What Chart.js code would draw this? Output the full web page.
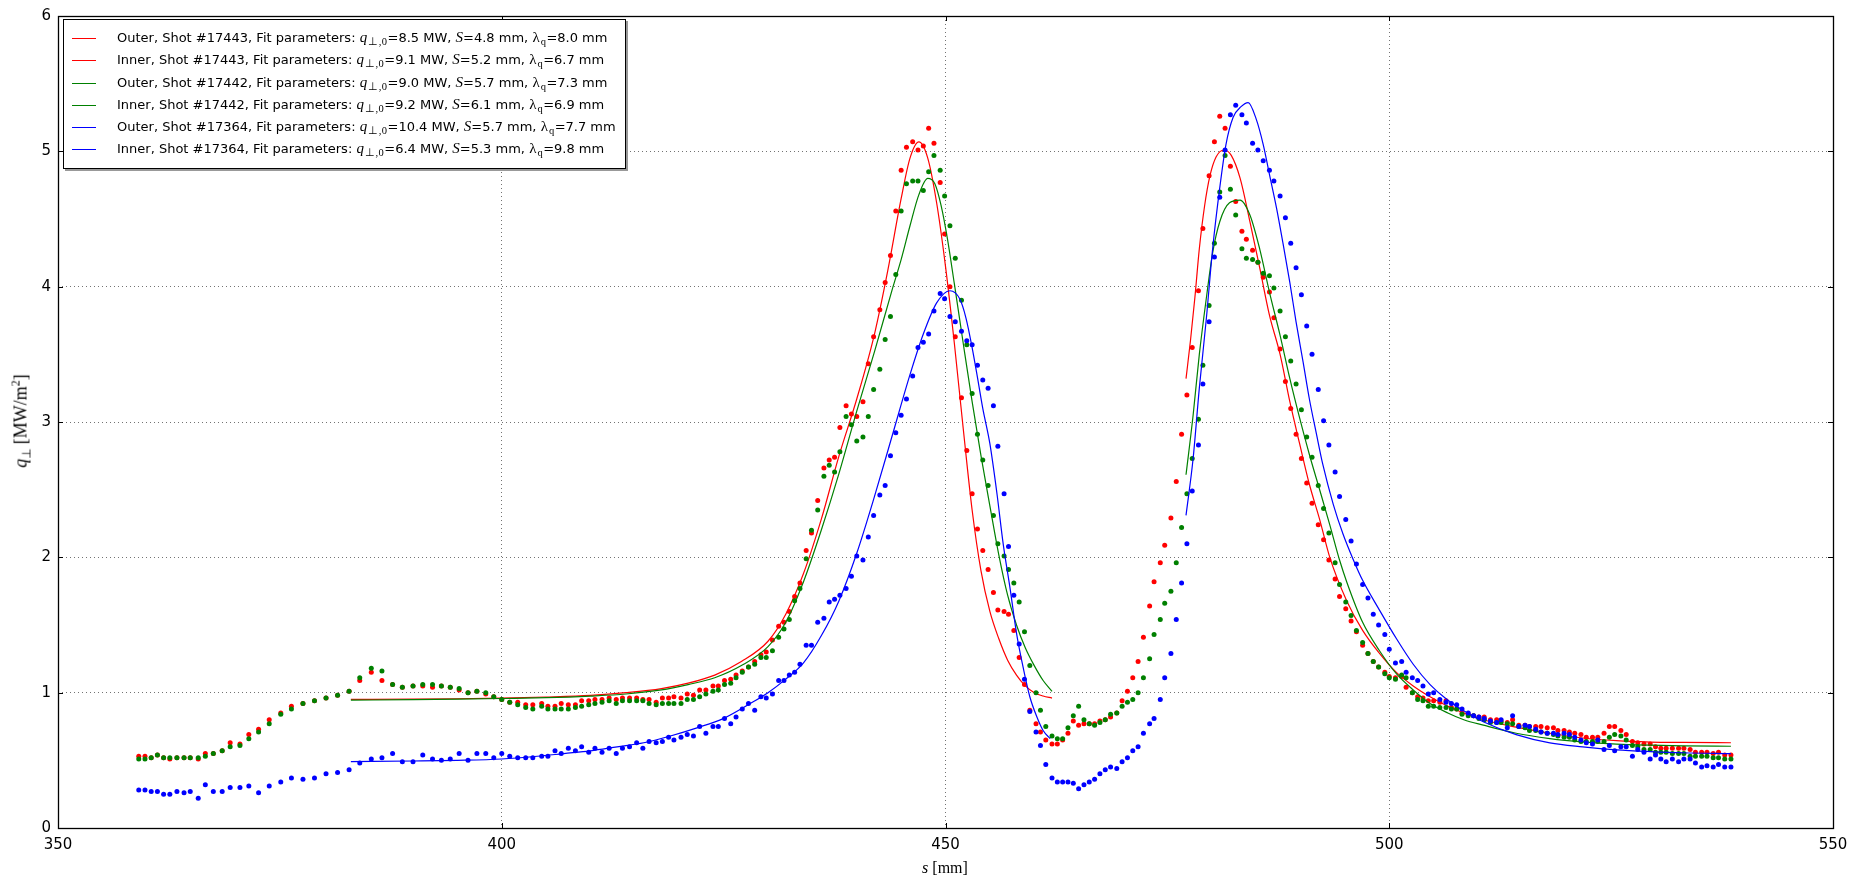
<!DOCTYPE html>
<html>
<head>
<meta charset="utf-8">
<title>Heat flux profiles</title>
<script src="https://cdn.jsdelivr.net/npm/chart.js@4.4.1/dist/chart.umd.min.js"></script>
<style>
    html, body { margin: 0; padding: 0; background: #fff; }
    #chart-div { position: relative; width: 1858px; height: 881px; }
    #legend-div {
        position: absolute; left: 63px; top: 19px; width: 561px;
        padding: 6px 0 8px 0; border: 1px solid #000; background: #fff;
        box-shadow: 2px 2px 0 #999;
        font-family: "DejaVu Sans", sans-serif; font-size: 13px; color: #000;
    }
    .legend-row { height: 22.3px; line-height: 22.3px; white-space: nowrap; }
    .legend-line { display: inline-block; width: 24px; height: 0; border-top: 1.5px solid; vertical-align: middle; margin: 0 21px 0 8px; }
    .m { font-family: "Liberation Serif", serif; font-size: 15px; }
    .m sub { font-size: 10.5px; vertical-align: -3px; line-height: 0; margin-left: 1px; letter-spacing: 0.5px; }
    #y-title sub { font-size: 12px; vertical-align: -4px; line-height: 0; }
    #y-title sup { font-size: 12px; vertical-align: 7px; line-height: 0; }
    #x-title, #y-title { position: absolute; font-family: "Liberation Serif", serif; white-space: nowrap; color: #000; }
    #x-title { font-size: 16px; left: 945px; top: 868px; transform: translate(-50%, -50%); }
    #y-title { font-size: 18px; left: 21px; top: 421px; transform: translate(-50%, -50%) rotate(-90deg); }
</style>
</head>
<body>
<div id="chart-div">
    <canvas id="chart" width="1858" height="881"></canvas>
    <div id="legend-div"></div>
    <div id="x-title"><i>s</i> [mm]</div>
    <div id="y-title"><i>q</i><sub>⊥</sub> [MW/m<sup>2</sup>]</div>
</div>
<script>
// 측정 위치 s [mm] (세 샷 공통)
const sPos = [
    359.1, 359.8, 360.5, 361.2, 361.9, 362.6, 363.4, 364.2, 364.9, 365.8,
    366.6, 367.5, 368.5, 369.4, 370.5, 371.5, 372.6, 373.8, 375.1, 376.3,
    377.6, 378.9, 380.2, 381.5, 382.8, 384.0, 385.3, 386.5, 387.7, 388.8,
    390.0, 391.1, 392.2, 393.2, 394.2, 395.2, 396.2, 397.2, 398.2, 399.1,
    400.0, 400.9, 401.8, 402.7, 403.5, 404.5, 405.2, 406.0, 406.7, 407.5,
    408.3, 409.0, 409.8, 410.5, 411.3, 412.1, 412.9, 413.6, 414.4, 415.2,
    415.9, 416.6, 417.4, 418.1, 418.8, 419.4, 420.2, 420.9, 421.6, 422.3,
    423.0, 423.8, 424.4, 425.1, 425.8, 426.4, 427.1, 427.8, 428.5, 429.2,
    429.8, 430.5, 431.2, 431.8, 432.4, 433.0, 433.6, 434.3, 434.9, 435.6,
    436.3, 436.9, 437.5, 438.1, 438.8, 439.4, 440.0, 440.7, 441.3, 441.9,
    442.6, 443.2, 443.8, 444.4, 445.0, 445.6, 446.3, 446.9, 447.5, 448.1,
    448.7, 449.4, 449.9, 450.5, 451.1, 451.8, 452.4, 453.0, 453.6, 454.2,
    454.8, 455.4, 455.9, 456.6, 457.1, 457.7, 458.3, 458.9, 459.5, 460.2,
    460.7, 461.3, 462.0, 462.6, 463.2, 463.8, 464.4, 465.0, 465.6, 466.2,
    466.8, 467.4, 468.0, 468.6, 469.3, 469.9, 470.5, 471.1, 471.7, 472.3,
    473.0, 473.5, 474.2, 474.7, 475.4, 476.0, 476.6, 477.2, 477.8, 478.5,
    479.0, 479.7, 480.3, 480.9, 481.5, 482.1, 482.7, 483.4, 483.9, 484.6,
    485.2, 485.8, 486.5, 487.0, 487.7, 488.3, 488.9, 489.5, 490.1, 490.7,
    491.3, 492.0, 492.6, 493.2, 493.9, 494.4, 495.1, 495.7, 496.3, 497.0,
    497.6, 498.2, 498.8, 499.5, 500.0, 500.7, 501.4, 501.9, 502.6, 503.2,
    503.8, 504.4, 505.0, 505.7, 506.4, 507.0, 507.6, 508.2, 508.9, 509.5,
    510.1, 510.7, 511.4, 512.1, 512.6, 513.3, 513.9, 514.6, 515.3, 515.8,
    516.5, 517.1, 517.8, 518.5, 519.0, 519.7, 520.3, 520.9, 521.6, 522.2,
    522.9, 523.5, 524.2, 524.8, 525.4, 526.1, 526.7, 527.4, 528.0, 528.7,
    529.4, 530.0, 530.6, 531.2, 531.9, 532.6, 533.2, 533.9, 534.5, 535.2,
    535.8, 536.5, 537.1, 537.8, 538.5
]

// 측정값 q [MW/m^2]
const shot17443 = [
    0.53, 0.53, 0.52, 0.54, 0.52, 0.51, 0.52, 0.52, 0.52, 0.51,
    0.55, 0.55, 0.57, 0.63, 0.62, 0.69, 0.73, 0.80, 0.85, 0.90,
    0.92, 0.94, 0.96, 0.98, 1.01, 1.09, 1.15, 1.09, 1.06, 1.04,
    1.05, 1.05, 1.04, 1.05, 1.04, 1.02, 1.00, 1.01, 0.99, 0.97,
    0.95, 0.93, 0.93, 0.91, 0.91, 0.92, 0.90, 0.90, 0.92, 0.91,
    0.91, 0.94, 0.94, 0.95, 0.95, 0.96, 0.95, 0.96, 0.96, 0.96,
    0.95, 0.95, 0.93, 0.96, 0.96, 0.97, 0.96, 0.99, 0.98, 1.02,
    1.02, 1.05, 1.05, 1.09, 1.10, 1.13, 1.16, 1.19, 1.23, 1.28,
    1.30, 1.39, 1.49, 1.52, 1.60, 1.71, 1.81, 2.05, 2.18, 2.42,
    2.66, 2.72, 2.74, 2.96, 3.12, 3.06, 3.04, 3.15, 3.43, 3.63,
    3.83, 4.03, 4.23, 4.56, 4.86, 5.03, 5.07, 5.01, 5.04, 5.17,
    5.06, 4.77, 4.39, 4.00, 3.63, 3.18, 2.79, 2.47, 2.21, 2.05,
    1.91, 1.74, 1.61, 1.60, 1.58, 1.46, 1.26, 1.06, 0.87, 0.77,
    0.71, 0.65, 0.62, 0.62, 0.65, 0.70, 0.79, 0.76, 0.77, 0.77,
    0.77, 0.79, 0.80, 0.82, 0.85, 0.94, 1.01, 1.11, 1.23, 1.41,
    1.64, 1.82, 1.96, 2.09, 2.29, 2.56, 2.91, 3.20, 3.55, 3.97,
    4.43, 4.82, 5.07, 5.26, 5.17, 4.89, 4.63, 4.41, 4.35, 4.27,
    4.18, 4.07, 3.96, 3.77, 3.54, 3.30, 3.10, 2.91, 2.73, 2.55,
    2.40, 2.24, 2.13, 1.98, 1.84, 1.71, 1.62, 1.53, 1.45, 1.35,
    1.29, 1.23, 1.19, 1.15, 1.12, 1.11, 1.12, 1.04, 1.00, 0.97,
    0.96, 0.94, 0.94, 0.93, 0.94, 0.89, 0.88, 0.85, 0.84, 0.83,
    0.82, 0.82, 0.80, 0.80, 0.79, 0.78, 0.80, 0.76, 0.76, 0.75,
    0.75, 0.75, 0.74, 0.74, 0.72, 0.72, 0.71, 0.70, 0.69, 0.67,
    0.67, 0.67, 0.70, 0.75, 0.75, 0.72, 0.69, 0.64, 0.63, 0.62,
    0.62, 0.60, 0.59, 0.59, 0.59, 0.59, 0.59, 0.58, 0.56, 0.56,
    0.56, 0.55, 0.56, 0.54, 0.54
]
const shot17442 = [
    0.51, 0.51, 0.52, 0.54, 0.52, 0.52, 0.52, 0.52, 0.52, 0.52,
    0.53, 0.55, 0.57, 0.60, 0.61, 0.66, 0.71, 0.77, 0.84, 0.88,
    0.92, 0.94, 0.96, 0.98, 1.01, 1.11, 1.18, 1.16, 1.06, 1.04,
    1.05, 1.06, 1.06, 1.05, 1.04, 1.03, 1.00, 1.01, 1.00, 0.97,
    0.95, 0.93, 0.91, 0.89, 0.88, 0.90, 0.88, 0.88, 0.88, 0.88,
    0.89, 0.90, 0.91, 0.92, 0.93, 0.94, 0.92, 0.94, 0.94, 0.94,
    0.94, 0.92, 0.91, 0.92, 0.92, 0.92, 0.92, 0.95, 0.95, 0.97,
    0.99, 1.01, 1.02, 1.06, 1.07, 1.11, 1.15, 1.19, 1.21, 1.26,
    1.26, 1.31, 1.41, 1.47, 1.54, 1.68, 1.77, 1.99, 2.20, 2.35,
    2.60, 2.68, 2.63, 2.78, 3.04, 2.98, 2.86, 2.89, 3.04, 3.24,
    3.39, 3.61, 3.78, 4.09, 4.56, 4.76, 4.78, 4.78, 4.71, 4.85,
    4.97, 4.86, 4.67, 4.45, 4.21, 3.90, 3.57, 3.21, 2.91, 2.72,
    2.53, 2.31, 2.10, 2.01, 1.91, 1.81, 1.67, 1.45, 1.20, 1.00,
    0.87, 0.75, 0.68, 0.66, 0.66, 0.74, 0.83, 0.90, 0.80, 0.77,
    0.76, 0.78, 0.80, 0.84, 0.85, 0.90, 0.93, 0.95, 1.00, 1.11,
    1.25, 1.43, 1.54, 1.66, 1.75, 1.96, 2.22, 2.47, 2.73, 3.02,
    3.42, 3.86, 4.32, 4.70, 4.97, 4.72, 4.53, 4.28, 4.21, 4.20,
    4.18, 4.10, 4.08, 3.99, 3.82, 3.63, 3.45, 3.28, 3.09, 2.89,
    2.74, 2.53, 2.36, 2.18, 1.96, 1.80, 1.67, 1.57, 1.46, 1.37,
    1.29, 1.23, 1.19, 1.14, 1.11, 1.10, 1.13, 1.11, 1.00, 0.95,
    0.94, 0.90, 0.90, 0.89, 0.89, 0.88, 0.88, 0.84, 0.83, 0.83,
    0.81, 0.80, 0.78, 0.78, 0.78, 0.77, 0.77, 0.75, 0.74, 0.72,
    0.72, 0.71, 0.70, 0.69, 0.68, 0.67, 0.67, 0.65, 0.64, 0.64,
    0.64, 0.64, 0.64, 0.67, 0.69, 0.68, 0.65, 0.61, 0.60, 0.58,
    0.58, 0.56, 0.56, 0.56, 0.55, 0.55, 0.55, 0.53, 0.53, 0.53,
    0.53, 0.52, 0.52, 0.51, 0.51
]
const shot17364 = [
    0.28, 0.28, 0.27, 0.27, 0.25, 0.25, 0.27, 0.26, 0.27, 0.22,
    0.32, 0.27, 0.27, 0.30, 0.30, 0.31, 0.26, 0.31, 0.34, 0.37,
    0.36, 0.37, 0.40, 0.41, 0.43, 0.48, 0.51, 0.52, 0.55, 0.49,
    0.49, 0.54, 0.51, 0.50, 0.51, 0.55, 0.50, 0.55, 0.55, 0.52,
    0.55, 0.53, 0.52, 0.52, 0.52, 0.53, 0.53, 0.57, 0.55, 0.59,
    0.57, 0.60, 0.56, 0.59, 0.56, 0.59, 0.55, 0.59, 0.60, 0.63,
    0.59, 0.64, 0.63, 0.64, 0.67, 0.65, 0.67, 0.69, 0.68, 0.75,
    0.70, 0.75, 0.75, 0.81, 0.77, 0.82, 0.88, 0.92, 0.87, 0.97,
    0.96, 0.99, 1.09, 1.09, 1.13, 1.15, 1.21, 1.35, 1.35, 1.52,
    1.55, 1.67, 1.69, 1.72, 1.77, 1.86, 2.01, 1.98, 2.15, 2.31,
    2.46, 2.53, 2.75, 2.92, 3.05, 3.17, 3.34, 3.55, 3.59, 3.65,
    3.82, 3.95, 3.91, 3.78, 3.74, 3.67, 3.60, 3.57, 3.42, 3.31,
    3.25, 3.12, 2.82, 2.47, 2.08, 1.72, 1.36, 1.10, 0.86, 0.71,
    0.61, 0.47, 0.37, 0.34, 0.34, 0.34, 0.33, 0.29, 0.32, 0.34,
    0.36, 0.40, 0.43, 0.45, 0.44, 0.49, 0.52, 0.57, 0.60, 0.70,
    0.77, 0.81, 0.95, 1.11, 1.29, 1.54, 1.81, 2.10, 2.49, 2.83,
    3.28, 3.74, 4.22, 4.66, 5.01, 5.27, 5.34, 5.27, 5.21, 5.06,
    5.01, 4.93, 4.86, 4.78, 4.67, 4.51, 4.32, 4.14, 3.94, 3.71,
    3.50, 3.24, 3.01, 2.83, 2.63, 2.45, 2.28, 2.12, 1.95, 1.80,
    1.70, 1.58, 1.50, 1.43, 1.32, 1.22, 1.23, 1.15, 1.11, 1.09,
    1.05, 0.99, 1.00, 0.95, 0.93, 0.92, 0.91, 0.88, 0.85, 0.83,
    0.82, 0.81, 0.79, 0.78, 0.80, 0.74, 0.83, 0.75, 0.76, 0.75,
    0.73, 0.71, 0.70, 0.70, 0.69, 0.70, 0.69, 0.67, 0.65, 0.63,
    0.62, 0.65, 0.58, 0.61, 0.57, 0.60, 0.60, 0.53, 0.58, 0.56,
    0.51, 0.54, 0.51, 0.49, 0.51, 0.49, 0.51, 0.51, 0.48, 0.45,
    0.46, 0.45, 0.47, 0.45, 0.45
]

// 피팅 곡선
const outer17443S = [477.1, 477.6, 478.1, 478.6, 479.2, 479.8, 480.5, 481.4, 482.2, 483.2, 484.3, 485.4, 486.5, 487.7, 488.8, 489.9, 491.0, 492.2, 493.3, 495.2, 497.0, 498.9, 500.8, 502.7, 504.6, 506.6, 508.4, 510.6, 514.3, 518.1, 521.8, 525.6, 529.4, 533.1, 538.5]
const outer17443Q = [3.32, 3.60, 3.92, 4.28, 4.60, 4.82, 4.96, 5.01, 4.97, 4.80, 4.48, 4.14, 3.79, 3.50, 3.15, 2.84, 2.54, 2.27, 2.00, 1.68, 1.46, 1.29, 1.15, 1.05, 0.97, 0.90, 0.85, 0.80, 0.745, 0.70, 0.665, 0.645, 0.635, 0.632, 0.63]
const inner17443S = [383, 390, 395, 400, 405, 410, 414, 418, 421, 424, 427, 430, 432, 434, 436, 438, 440, 442, 443.5, 445, 446, 447, 448, 449, 450, 451, 452, 453, 454, 455, 456, 457, 458, 459, 460, 461, 462]
const inner17443Q = [0.95, 0.952, 0.955, 0.96, 0.968, 0.98, 1.0, 1.03, 1.07, 1.13, 1.23, 1.38, 1.58, 1.88, 2.28, 2.75, 3.17, 3.65, 4.12, 4.65, 4.95, 5.07, 4.95, 4.62, 4.15, 3.58, 2.95, 2.35, 1.9, 1.6, 1.4, 1.24, 1.13, 1.05, 1.0, 0.975, 0.96]
const outer17442S = [477.1, 477.9, 478.6, 479.4, 480.1, 480.9, 482.0, 483.2, 484.3, 485.4, 486.5, 487.7, 488.8, 489.9, 491.0, 492.2, 493.3, 494.4, 495.2, 497.0, 498.9, 500.8, 502.7, 504.6, 506.6, 508.4, 510.6, 514.3, 518.1, 521.8, 525.6, 529.4, 533.1, 538.5]
const outer17442Q = [2.61, 3.05, 3.50, 3.92, 4.25, 4.48, 4.62, 4.64, 4.53, 4.28, 3.96, 3.64, 3.32, 3.03, 2.76, 2.49, 2.24, 1.98, 1.82, 1.52, 1.31, 1.14, 1.02, 0.92, 0.85, 0.80, 0.76, 0.70, 0.661, 0.636, 0.62, 0.612, 0.607, 0.604]
const inner17442S = [383, 390, 395, 400, 405, 410, 414, 418, 421, 424, 427, 430, 432, 434, 436, 438, 440, 442, 444, 445, 446, 447, 448, 448.8, 449.5, 450.2, 451, 452, 453, 454, 455, 456, 457, 458, 459, 460, 461, 462]
const inner17442Q = [0.945, 0.948, 0.952, 0.957, 0.963, 0.975, 0.99, 1.02, 1.06, 1.11, 1.2, 1.34, 1.52, 1.82, 2.2, 2.62, 3.08, 3.52, 3.98, 4.2, 4.45, 4.68, 4.8, 4.76, 4.6, 4.36, 4.02, 3.58, 3.15, 2.75, 2.38, 2.02, 1.72, 1.5, 1.33, 1.2, 1.09, 1.01]
const outer17364S = [477.1, 477.9, 478.6, 479.4, 480.1, 480.9, 481.6, 482.4, 483.3, 484.1, 485.0, 485.8, 486.5, 487.3, 488.0, 488.8, 489.5, 490.3, 491.0, 491.8, 492.5, 493.7, 494.8, 495.9, 497.0, 498.9, 500.8, 502.7, 504.6, 506.4, 508.3, 510.6, 514.3, 518.1, 521.8, 525.6, 529.4, 533.1, 538.5]
const outer17364Q = [2.31, 2.73, 3.25, 3.77, 4.28, 4.73, 5.05, 5.25, 5.33, 5.36, 5.24, 5.05, 4.83, 4.58, 4.33, 4.03, 3.74, 3.44, 3.17, 2.91, 2.69, 2.39, 2.17, 1.99, 1.83, 1.61, 1.40, 1.21, 1.06, 0.955, 0.87, 0.785, 0.69, 0.629, 0.60, 0.578, 0.565, 0.556, 0.55]
const inner17364S = [383, 390, 395, 400, 404, 407, 410, 413, 416, 419, 422, 425, 428, 430, 432, 434, 436, 438, 440, 442, 444, 446, 447.5, 449, 450.5, 451.6, 452.3, 453, 453.6, 454.2, 455, 455.8, 456.5, 457.3, 458, 458.8, 459.5, 460.3, 461, 461.8]
const inner17364Q = [0.49, 0.495, 0.5, 0.51, 0.53, 0.55, 0.57, 0.6, 0.63, 0.68, 0.74, 0.81, 0.92, 1.0, 1.1, 1.22, 1.42, 1.68, 2.03, 2.45, 2.9, 3.35, 3.65, 3.88, 3.97, 3.91, 3.77, 3.55, 3.33, 3.1, 2.84, 2.47, 2.1, 1.76, 1.44, 1.17, 0.97, 0.82, 0.72, 0.66]

// 범례용 피팅 파라미터
const fitSide = ['Outer', 'Inner', 'Outer', 'Inner', 'Outer', 'Inner']
const fitShot = ['17443', '17443', '17442', '17442', '17364', '17364']
const fitQ0 = [8.5, 9.1, 9.0, 9.2, 10.4, 6.4]
const fitWidthS = [4.8, 5.2, 5.7, 6.1, 5.7, 5.3]
const fitLambda = [8.0, 6.7, 7.3, 6.9, 7.7, 9.8]

const colorRed = '#ff0000'
const colorGreen = '#008000'
const colorBlue = '#0000ff'

window.onload = function () {
    drawChart()
    drawLegend()
}

function toPoints(xs, ys) {
    const pts = []
    for (let i = 0; i < xs.length; i++) {
        pts.push({x: xs[i], y: ys[i]})
    }
    return pts
}

function pointSet(values, color, order) {
    return {
        data: toPoints(sPos, values),
        showLine: false,
        pointRadius: 2.5,
        pointHoverRadius: 2.5,
        pointBorderWidth: 0,
        pointBackgroundColor: color,
        borderColor: color,
        order: order
    }
}

function fitSet(xs, ys, color, order) {
    return {
        data: toPoints(xs, ys),
        showLine: true,
        pointRadius: 0,
        pointHoverRadius: 0,
        borderColor: color,
        backgroundColor: color,
        borderWidth: 1.2,
        cubicInterpolationMode: 'monotone',
        fill: false,
        order: order
    }
}

// 축 테두리 + 안쪽 눈금
const framePlugin = {
    id: 'frame',
    afterDraw: function (chart) {
        const ctx = chart.ctx
        const a = chart.chartArea
        const xs = chart.scales.x
        const ys = chart.scales.y
        ctx.save()
        ctx.strokeStyle = '#000'
        ctx.lineWidth = 1
        ctx.beginPath()
        xs.ticks.forEach(function (t) {
            const px = Math.round(xs.getPixelForValue(t.value)) + 0.5
            ctx.moveTo(px, a.bottom); ctx.lineTo(px, a.bottom - 5)
            ctx.moveTo(px, a.top); ctx.lineTo(px, a.top + 5)
        })
        ys.ticks.forEach(function (t) {
            const py = Math.round(ys.getPixelForValue(t.value)) + 0.5
            ctx.moveTo(a.left, py); ctx.lineTo(a.left + 5, py)
            ctx.moveTo(a.right, py); ctx.lineTo(a.right - 5, py)
        })
        ctx.stroke()
        ctx.lineWidth = 1.3
        ctx.strokeRect(Math.round(a.left) + 0.5, Math.round(a.top) + 0.5, Math.round(a.right - a.left), Math.round(a.bottom - a.top))
        ctx.restore()
    }
}

function drawChart() {
    const chartContext = document.getElementById('chart').getContext('2d')

    const datasets = [
        pointSet(shot17443, colorRed, 6),
        fitSet(outer17443S, outer17443Q, colorRed, 5),
        fitSet(inner17443S, inner17443Q, colorRed, 5),
        pointSet(shot17442, colorGreen, 4),
        fitSet(outer17442S, outer17442Q, colorGreen, 3),
        fitSet(inner17442S, inner17442Q, colorGreen, 3),
        pointSet(shot17364, colorBlue, 2),
        fitSet(outer17364S, outer17364Q, colorBlue, 1),
        fitSet(inner17364S, inner17364Q, colorBlue, 1)
    ]

    const tickFont = {family: 'DejaVu Sans', size: 15}

    new Chart(chartContext, {
        type: 'scatter',
        data: {datasets: datasets},
        plugins: [framePlugin],
        options: {
            responsive: false,
            animation: false,
            devicePixelRatio: 1,
            layout: {
                autoPadding: false,
                padding: {left: 8, right: 25, top: 14, bottom: 13}
            },
            plugins: {
                legend: {display: false},
                tooltip: {enabled: false}
            },
            scales: {
                x: {
                    type: 'linear',
                    min: 350,
                    max: 550,
                    ticks: {stepSize: 50, font: tickFont, color: '#000', padding: 8, maxRotation: 0},
                    grid: {color: 'rgba(0,0,0,0.55)', lineWidth: 1, drawTicks: false},
                    border: {display: false, dash: [1, 3]},
                    afterFit: function (scale) { scale.height = 40 }
                },
                y: {
                    type: 'linear',
                    min: 0,
                    max: 6,
                    ticks: {stepSize: 1, font: tickFont, color: '#000', padding: 7},
                    grid: {color: 'rgba(0,0,0,0.55)', lineWidth: 1, drawTicks: false},
                    border: {display: false, dash: [1, 3]},
                    afterFit: function (scale) { scale.width = 50 }
                }
            }
        }
    })
}

// 범례 (수식 부분은 세리프 이탤릭)
function drawLegend() {
    const legendDiv = document.getElementById('legend-div')
    const colors = [colorRed, colorRed, colorGreen, colorGreen, colorBlue, colorBlue]
    for (let i = 0; i < fitSide.length; i++) {
        const row = document.createElement('div')
        row.className = 'legend-row'
        row.innerHTML = "<span class='legend-line' style='border-color:" + colors[i] + "'></span>" +
            fitSide[i] + ", Shot #" + fitShot[i] + ", Fit parameters: " +
            "<span class='m'><i>q</i><sub>⊥,0</sub></span>=" + fitQ0[i].toFixed(1) + " MW, " +
            "<span class='m'><i>S</i></span>=" + fitWidthS[i].toFixed(1) + " mm, " +
            "<span class='m'>λ<sub>q</sub></span>=" + fitLambda[i].toFixed(1) + " mm"
        legendDiv.append(row)
    }
}
</script>
</body>
</html>
